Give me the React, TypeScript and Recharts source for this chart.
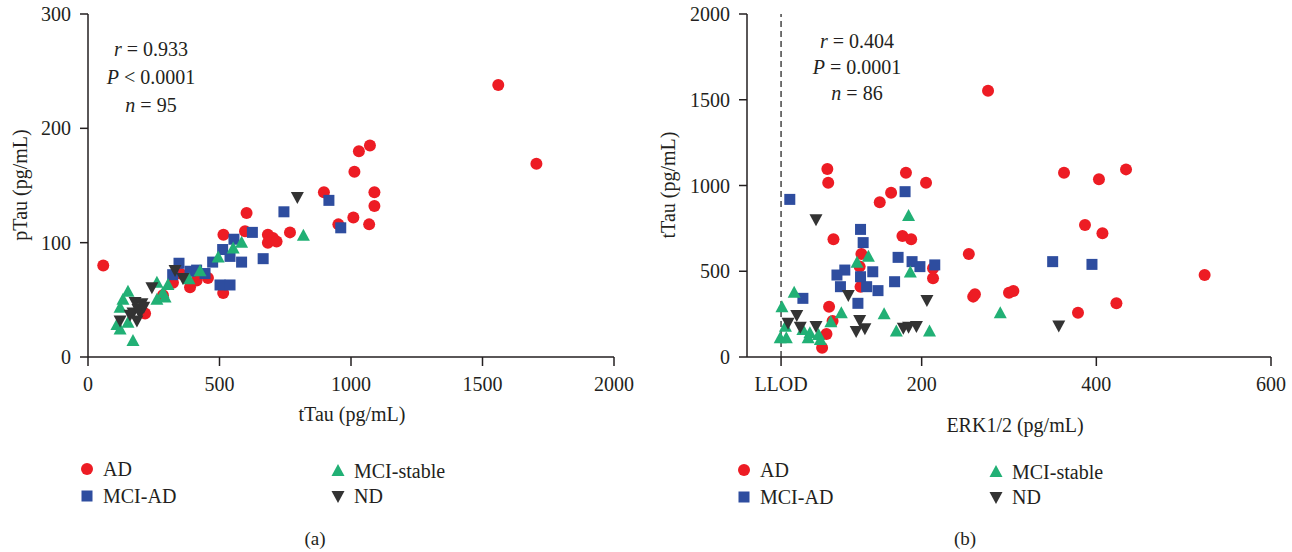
import React from "react";
import {
  ScatterChart,
  Scatter,
  XAxis,
  YAxis,
  ReferenceLine
} from "recharts";

// panel (a): tTau vs pTau, [tTau, pTau]
const adA = [
  [58, 80], [603, 126], [515, 107], [597, 110], [684, 107], [703, 104], [684, 100], [717, 101],
  [456, 69], [388, 61], [413, 67], [514, 56], [323, 65], [285, 54], [217, 38], [350, 73],
  [1072, 185], [1030, 180], [1013, 162], [897, 144], [1089, 144], [1089, 132], [1009, 122],
  [952, 116], [1069, 116], [768, 109], [1560, 238], [1705, 169]
];
const mciAdA = [
  [346, 82], [322, 72], [388, 75], [413, 76], [445, 73], [474, 83], [512, 94], [555, 103],
  [540, 88], [584, 83], [625, 109], [666, 86], [502, 63], [540, 63], [745, 127], [916, 137], [961, 113]
];
const mciStableA = [
  [584, 100], [552, 95], [495, 87], [426, 75], [384, 68], [304, 63], [262, 65], [262, 50],
  [285, 56], [293, 52], [152, 57], [133, 50], [122, 43], [110, 28], [122, 24], [152, 30], [171, 14], [819, 106]
];
const ndA = [
  [331, 76], [361, 69], [243, 61], [179, 48], [205, 47], [171, 39], [198, 39], [160, 37],
  [186, 32], [122, 32], [190, 42], [212, 44], [796, 140]
];

// panel (b): ERK1/2 vs tTau, [ERK1/2, tTau]
const adB = [
  [92, 1096], [93, 1016], [99, 686], [182, 1075], [205, 1016], [165, 958], [152, 902], [178, 706],
  [188, 686], [131, 600], [129, 527], [130, 410], [213, 517], [213, 459], [94, 293], [98, 210],
  [91, 134], [86, 54], [276, 1553], [363, 1075], [403, 1036], [434, 1094], [387, 770], [407, 721],
  [254, 600], [259, 352], [261, 366], [300, 375], [305, 385], [379, 258], [423, 313], [524, 478]
];
const mciAdB = [
  [49, 919], [181, 964], [130, 744], [133, 667], [173, 581], [189, 556], [198, 527], [215, 537],
  [144, 497], [112, 507], [103, 478], [130, 468], [107, 410], [137, 410], [150, 387], [169, 439],
  [64, 342], [127, 313], [350, 556], [395, 540]
];
const mciStableB = [
  [185, 822], [139, 585], [126, 550], [187, 492], [54, 375], [40, 290], [108, 255], [96, 202],
  [157, 249], [44, 177], [171, 148], [209, 148], [38, 109], [45, 109], [64, 157], [72, 138],
  [70, 109], [82, 128], [84, 99], [290, 255]
];
const ndB = [
  [79, 803], [116, 362], [206, 332], [57, 245], [47, 200], [61, 177], [79, 181], [129, 216],
  [135, 167], [125, 152], [179, 171], [185, 177], [194, 181], [357, 183]
];

const ticksAX = [0, 500, 1000, 1500, 2000];
const ticksAY = [0, 100, 200, 300];
const LLOD = 39;
const ticksBX = [LLOD, 200, 400, 600];
const ticksBY = [0, 500, 1000, 1500, 2000];

const RED = "#ed1c24";
const BLUE = "#2e4d9f";
const GREEN = "#21b075";
const DARK = "#333333";
const INK = "#231f20";
const FONT = "'Liberation Serif', 'DejaVu Serif', serif";

const toPts = (arr: number[][]) => arr.map(([x, y]) => ({ x, y }));

const circleShape = (p: any) => <circle cx={p.cx} cy={p.cy} r={6} fill={RED} />;
const squareShape = (p: any) => (
  <rect x={p.cx - 5.5} y={p.cy - 5.5} width={11} height={11} fill={BLUE} />
);
const upShape = (p: any) => (
  <polygon
    points={`${p.cx},${p.cy - 7} ${p.cx + 6.5},${p.cy + 5} ${p.cx - 6.5},${p.cy + 5}`}
    fill={GREEN}
  />
);
const downShape = (p: any) => (
  <polygon
    points={`${p.cx - 6.5},${p.cy - 5} ${p.cx + 6.5},${p.cy - 5} ${p.cx},${p.cy + 7}`}
    fill={DARK}
  />
);

const tickStyle = { fill: INK, fontSize: 20, fontFamily: FONT };
const axisLine = { stroke: INK, strokeWidth: 1.5 };

function Series({ ad, mciAd, mciStable, nd }: any) {
  return [
    <Scatter key="ad" data={toPts(ad)} shape={circleShape} isAnimationActive={false} />,
    <Scatter key="mad" data={toPts(mciAd)} shape={squareShape} isAnimationActive={false} />,
    <Scatter key="ms" data={toPts(mciStable)} shape={upShape} isAnimationActive={false} />,
    <Scatter key="nd" data={toPts(nd)} shape={downShape} isAnimationActive={false} />
  ];
}

function Txt({ x, y, children, size = 20, rotate = false }: any) {
  const style: React.CSSProperties = {
    position: "absolute",
    left: x,
    top: y,
    fontSize: size,
    color: INK,
    whiteSpace: "nowrap",
    lineHeight: 1,
    transform: "translate(-50%, -50%)" + (rotate ? " rotate(-90deg)" : "")
  };
  return <div style={style}>{children}</div>;
}

function LegendItem({ x, y, kind, label }: any) {
  let icon: React.ReactNode = null;
  if (kind === "circle") icon = <circle cx={8} cy={8} r={6} fill={RED} />;
  if (kind === "square") icon = <rect x={2.5} y={2.5} width={11} height={11} fill={BLUE} />;
  if (kind === "up") icon = <polygon points="8,1 14.5,13 1.5,13" fill={GREEN} />;
  if (kind === "down") icon = <polygon points="1.5,3 14.5,3 8,15" fill={DARK} />;
  return (
    <div style={{ position: "absolute", left: x - 8, top: y - 8, height: 16 }}>
      <svg width={16} height={16} style={{ position: "absolute", left: 0, top: 0 }}>
        {icon}
      </svg>
      <div
        style={{
          position: "absolute",
          left: 24,
          top: 8,
          transform: "translateY(-50%)",
          fontSize: 20,
          color: INK,
          whiteSpace: "nowrap",
          lineHeight: 1
        }}
      >
        {label}
      </div>
    </div>
  );
}

export default function App() {
  return (
    <div
      style={{
        position: "absolute",
        left: 0,
        top: 0,
        width: 1292,
        height: 552,
        background: "#fff",
        fontFamily: FONT,
        overflow: "hidden"
      }}
    >
      <style>{`svg text, svg tspan { font-family: ${FONT} !important; }`}</style>
      <div style={{ position: "absolute", left: 0, top: 0 }}>
        <ScatterChart width={640} height={440} margin={{ top: 14, right: 26, bottom: 43, left: 0 }}>
          <XAxis
            type="number"
            dataKey="x"
            domain={[0, 2000]}
            ticks={ticksAX}
            height={40}
            tick={tickStyle}
            tickSize={9}
            tickMargin={11}
            axisLine={axisLine}
            tickLine={axisLine}
          />
          <YAxis
            type="number"
            dataKey="y"
            domain={[0, 300]}
            ticks={ticksAY}
            width={88}
            tick={tickStyle}
            tickSize={8}
            tickMargin={9}
            axisLine={axisLine}
            tickLine={axisLine}
          />
          {Series({ ad: adA, mciAd: mciAdA, mciStable: mciStableA, nd: ndA })}
        </ScatterChart>
      </div>

      <div style={{ position: "absolute", left: 650, top: 0 }}>
        <ScatterChart width={640} height={440} margin={{ top: 14, right: 19, bottom: 43, left: 9 }}>
          <XAxis
            type="number"
            dataKey="x"
            domain={[0, 600]}
            ticks={ticksBX}
            tickFormatter={(v: number) => (v === LLOD ? "LLOD" : String(v))}
            height={40}
            tick={tickStyle}
            tickSize={9}
            tickMargin={11}
            axisLine={axisLine}
            tickLine={axisLine}
          />
          <YAxis
            type="number"
            dataKey="y"
            domain={[0, 2000]}
            ticks={ticksBY}
            width={88}
            tick={tickStyle}
            tickSize={8}
            tickMargin={9}
            axisLine={axisLine}
            tickLine={axisLine}
          />
          <ReferenceLine x={LLOD} stroke="#444" strokeWidth={1.5} strokeDasharray="6 4" />
          {Series({ ad: adB, mciAd: mciAdB, mciStable: mciStableB, nd: ndB })}
        </ScatterChart>
      </div>

      {/* panel (a) texts */}
      <Txt x={20} y={185} rotate>pTau (pg/mL)</Txt>
      <Txt x={352} y={414}>tTau (pg/mL)</Txt>
      <Txt x={151} y={49}><i>r</i> = 0.933</Txt>
      <Txt x={151} y={77}><i>P</i> &lt; 0.0001</Txt>
      <Txt x={151} y={105}><i>n</i> = 95</Txt>
      <LegendItem x={87} y={469} kind="circle" label="AD" />
      <LegendItem x={87} y={496} kind="square" label="MCI-AD" />
      <LegendItem x={338} y={471} kind="up" label="MCI-stable" />
      <LegendItem x={338} y={496} kind="down" label="ND" />
      <Txt x={315} y={538} size={19}>(a)</Txt>

      {/* panel (b) texts */}
      <Txt x={668} y={185} rotate>tTau (pg/mL)</Txt>
      <Txt x={1015} y={425}>ERK1/2 (pg/mL)</Txt>
      <Txt x={857} y={41}><i>r</i> = 0.404</Txt>
      <Txt x={857} y={67}><i>P</i> = 0.0001</Txt>
      <Txt x={857} y={93}><i>n</i> = 86</Txt>
      <LegendItem x={744} y={470} kind="circle" label="AD" />
      <LegendItem x={744} y={497} kind="square" label="MCI-AD" />
      <LegendItem x={996} y={472} kind="up" label="MCI-stable" />
      <LegendItem x={996} y={497} kind="down" label="ND" />
      <Txt x={965} y={538} size={19}>(b)</Txt>
    </div>
  );
}
